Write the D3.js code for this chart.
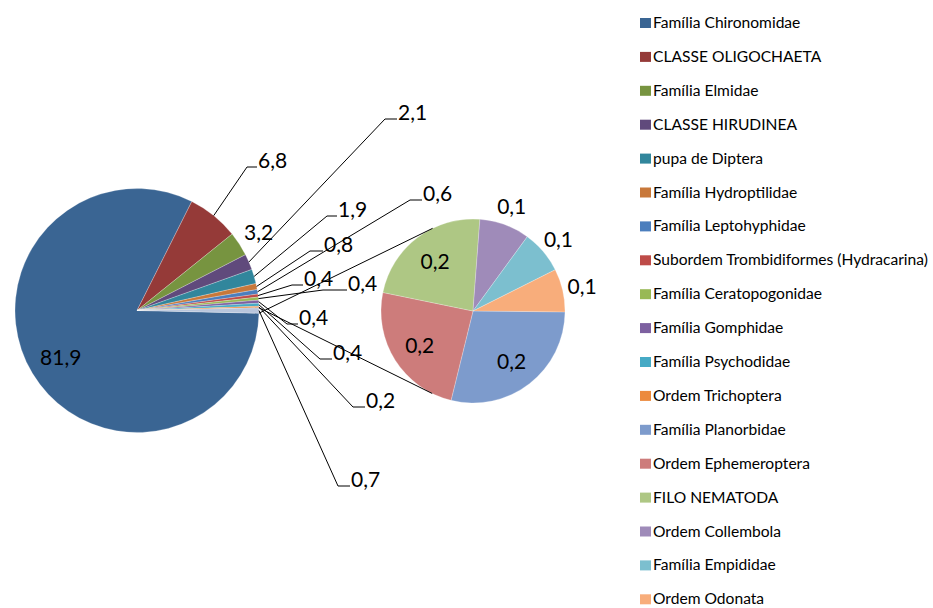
<!DOCTYPE html>
<html>
<head>
<meta charset="utf-8">
<script src="https://cdn.jsdelivr.net/npm/d3@7"></script>
<style>
  body { margin: 0; background: #fff; }
  svg { display: block; }
  text { font-family: Lato, "Open Sans", sans-serif; fill: #000; }
</style>
</head>
<body>
<svg id="chart" width="933" height="608"></svg>
<script>
// values in %, main pie (the rest goes to the small pie)
const mainNames = [
  "Família Chironomidae", "CLASSE OLIGOCHAETA", "Família Elmidae", "CLASSE HIRUDINEA",
  "pupa de Diptera", "Família Hydroptilidae", "Família Leptohyphidae",
  "Subordem Trombidiformes (Hydracarina)", "Família Ceratopogonidae", "Família Gomphidae",
  "Família Psychodidae", "Ordem Trichoptera"
];
const mainValues = [81.9, 6.8, 3.2, 2.1, 1.9, 0.8, 0.6, 0.4, 0.4, 0.4, 0.4, 0.2];

const otherNames = [
  "Família Planorbidae", "Ordem Ephemeroptera", "FILO NEMATODA",
  "Ordem Collembola", "Família Empididae", "Ordem Odonata"
];
const otherValues = [0.201, 0.171, 0.161, 0.062, 0.053, 0.053];

const mainColors = ["#3a6593", "#953a38", "#779440", "#604a7c", "#31869c", "#c8783a",
  "#4b7ebd", "#be4b48", "#98b955", "#7d60a0", "#46aac5", "#ec8a3d"];
const otherColors = ["#7d9bcc", "#cd7c7b", "#aec784", "#9f8bb9", "#7cbfcf", "#f8ad7b"];
const restColor = "#b9c6dc";

// label placement for the main pie, one per slice (last one is the "other" slice)
// r: placed on a radius, x/y: elbow of the leader line, len: short horizontal bit
const mainLabelPos = [
  { r: 89 }, { x: 247, y: 167, len: 10 }, { r: 145 }, { x: 385, y: 119, len: 12 },
  { x: 327, y: 216, len: 10 }, { x: 310, y: 251, len: 13 }, { x: 410, y: 200, len: 12 },
  { x: 292, y: 285, len: 11 }, { x: 323, y: 290, len: 24 }, { x: 287, y: 324, len: 11 },
  { x: 320, y: 359, len: 12 }, { x: 353, y: 407, len: 12 }, { x: 338, y: 486, len: 12 }
];

const svg = d3.select("#chart");
const fmt = v => d3.format(".1f")(v).replace(".", ",");

const p1 = { x: 137, y: 310.5, r: 122 };
const p2 = { x: 473, y: 311, r: 92 };

const restValue = d3.sum(otherValues);
const main = mainValues.map((v, i) => ({ name: mainNames[i], value: v, color: mainColors[i] }));
main.push({ name: "Outros", value: restValue, color: restColor });
const total = d3.sum(main, d => d.value);
const half = restValue / total * Math.PI;

const pie1 = d3.pie().sort(null).value(d => d.value)
  .startAngle(Math.PI / 2 + half).endAngle(Math.PI / 2 + half + 2 * Math.PI);
const arcs1 = pie1(main);
const arc1 = d3.arc().innerRadius(0).outerRadius(p1.r);

const g1 = svg.append("g").attr("transform", `translate(${p1.x},${p1.y})`);
g1.selectAll("path").data(arcs1).enter().append("path")
  .attr("d", arc1)
  .attr("fill", d => d.data.color)
  .attr("stroke", "#fff").attr("stroke-width", 0.4).attr("stroke-opacity", 0.6);

const other = otherValues.map((v, i) => ({ name: otherNames[i], value: v, color: otherColors[i] }));
const pie2 = d3.pie().sort(null).value(d => d.value)
  .startAngle(Math.PI / 2 + 0.01).endAngle(Math.PI / 2 + 0.01 + 2 * Math.PI);
const arcs2 = pie2(other);
const arc2 = d3.arc().innerRadius(0).outerRadius(p2.r);

const g2 = svg.append("g").attr("transform", `translate(${p2.x},${p2.y})`);
g2.selectAll("path").data(arcs2).enter().append("path")
  .attr("d", arc2)
  .attr("fill", d => d.data.color)
  .attr("stroke", "#fff").attr("stroke-width", 0.4).attr("stroke-opacity", 0.6);

// polar helper, angle clockwise from 12 o'clock
const polar = (c, r, a) => [c.x + r * Math.sin(a), c.y - r * Math.cos(a)];

// connector lines: from the edges of the "other" slice, tangent to the small pie
const rest = arcs1[arcs1.length - 1];
[rest.startAngle, rest.endAngle].forEach((a, k) => {
  const [px, py] = polar(p1, p1.r, a);
  const dx = px - p2.x, dy = py - p2.y;
  const d = Math.hypot(dx, dy);
  const base = Math.atan2(dy, dx);
  const t = base + (k === 1 ? 1 : -1) * Math.acos(p2.r / d);
  svg.append("line")
    .attr("x1", px).attr("y1", py)
    .attr("x2", p2.x + p2.r * Math.cos(t)).attr("y2", p2.y + p2.r * Math.sin(t))
    .attr("stroke", "#000").attr("stroke-width", 1);
});

// main pie labels
const labels = svg.append("g").attr("font-size", 21);
arcs1.forEach((d, i) => {
  const pos = mainLabelPos[i];
  const mid = (d.startAngle + d.endAngle) / 2;
  if (pos.r) {
    const [x, y] = polar(p1, pos.r, mid);
    labels.append("text").attr("x", x).attr("y", y)
      .attr("text-anchor", "middle").attr("dominant-baseline", "central")
      .text(fmt(d.data.value));
  } else {
    const [sx, sy] = polar(p1, p1.r, mid);
    labels.append("path")
      .attr("d", `M${sx},${sy}L${pos.x},${pos.y}H${pos.x + pos.len}`)
      .attr("fill", "none").attr("stroke", "#000").attr("stroke-width", 1);
    labels.append("text").attr("x", pos.x + pos.len + 1).attr("y", pos.y + 1)
      .text(fmt(d.data.value));
  }
});

// small pie labels: inside for the bigger slices, just outside for the rest
arcs2.forEach(d => {
  const mid = (d.startAngle + d.endAngle) / 2;
  const r = d.data.value > 0.1 ? 63 : p2.r + 20;
  const [x, y] = polar(p2, r, mid);
  labels.append("text").attr("x", x).attr("y", y)
    .attr("text-anchor", "middle").attr("dominant-baseline", "central")
    .text(fmt(d.data.value));
});

// legend
const legendItems = main.slice(0, mainNames.length).concat(other);
const legend = svg.append("g").attr("transform", "translate(640,28)");
const row = legend.selectAll("g").data(legendItems).enter().append("g")
  .attr("transform", (d, i) => `translate(0,${i * 33.9})`);
row.append("rect").attr("x", 0).attr("y", -10).attr("width", 11).attr("height", 10)
  .attr("fill", d => d.color);
row.append("text").attr("x", 13).attr("y", 0).attr("font-size", 15.6)
  .text(d => d.name);
</script>
</body>
</html>
